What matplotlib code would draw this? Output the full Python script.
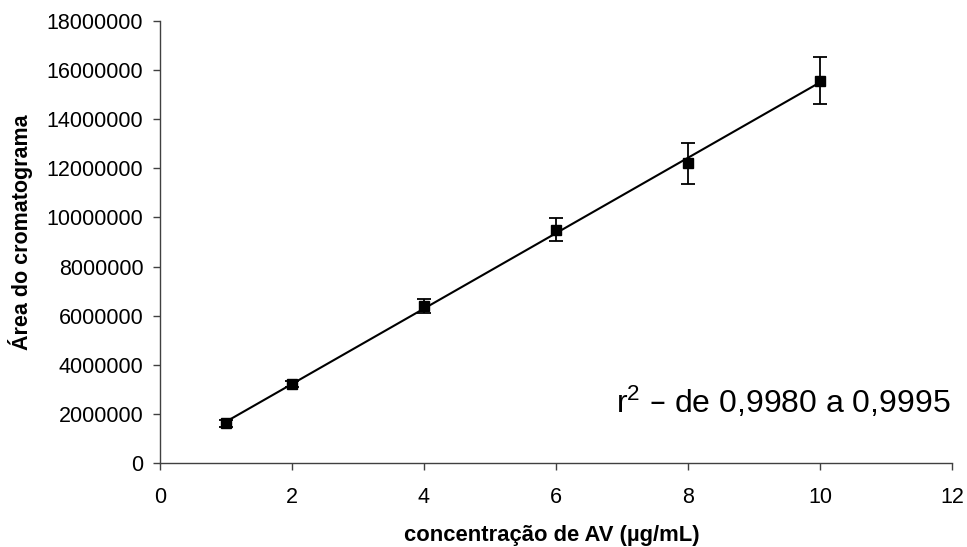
import matplotlib
matplotlib.use('Agg')
import matplotlib.pyplot as plt
import numpy as np

plt.rcParams['font.family'] = ['Liberation Sans', 'DejaVu Sans']
plt.rcParams['mathtext.default'] = 'regular'

# concentration (ug/mL), chromatogram area and standard deviation
conc = np.array([1, 2, 4, 6, 8, 10])
area = np.array([1620000, 3200000, 6390000, 9500000, 12200000, 15570000])
area_err = np.array([150000, 120000, 300000, 470000, 820000, 970000])

xticks = [0, 2, 4, 6, 8, 10, 12]
yticks = np.arange(0, 18000001, 2000000)

# linear trend line through the calibration points
slope, intercept = np.polyfit(conc, area, 1)
x_fit = np.array([conc.min(), conc.max()])
y_fit = slope * x_fit + intercept

fig = plt.figure(figsize=(9.67, 5.47), dpi=100)
ax = fig.add_axes([160 / 967, 84 / 547, 792 / 967, 442 / 547])

ax.plot(x_fit, y_fit, color='black', linewidth=1.5)
ax.errorbar(conc, area, yerr=area_err, fmt='s', color='black', markersize=7,
            ecolor='black', elinewidth=1.3, capsize=5, capthick=1.3)

ax.set_xlim(0, 12)
ax.set_ylim(0, 18000000)
ax.set_xticks(xticks)
ax.set_yticks(yticks)
ax.set_yticklabels([str(int(v)) for v in yticks])

for side in ['top', 'right']:
    ax.spines[side].set_visible(False)
for side in ['left', 'bottom']:
    ax.spines[side].set_color('#404040')
    ax.spines[side].set_linewidth(1.0)

ax.tick_params(axis='both', direction='out', length=5, width=1.0,
               color='#404040', labelsize=15.5)
ax.tick_params(axis='y', pad=7)
ax.tick_params(axis='x', pad=12)

ax.set_xlabel('concentração de AV (µg/mL)', fontsize=15.8, fontweight='bold')
ax.set_ylabel('Área do cromatograma', fontsize=15.5, fontweight='bold')
ax.xaxis.set_label_coords(0.495, -0.14)
ax.yaxis.set_label_coords(-0.16, 0.523)

ax.text(0.576, 0.112, 'r$^{2}$ – de 0,9980 a 0,9995', transform=ax.transAxes,
        fontsize=23, ha='left', va='baseline')

fig.savefig('out.png', dpi=100)
